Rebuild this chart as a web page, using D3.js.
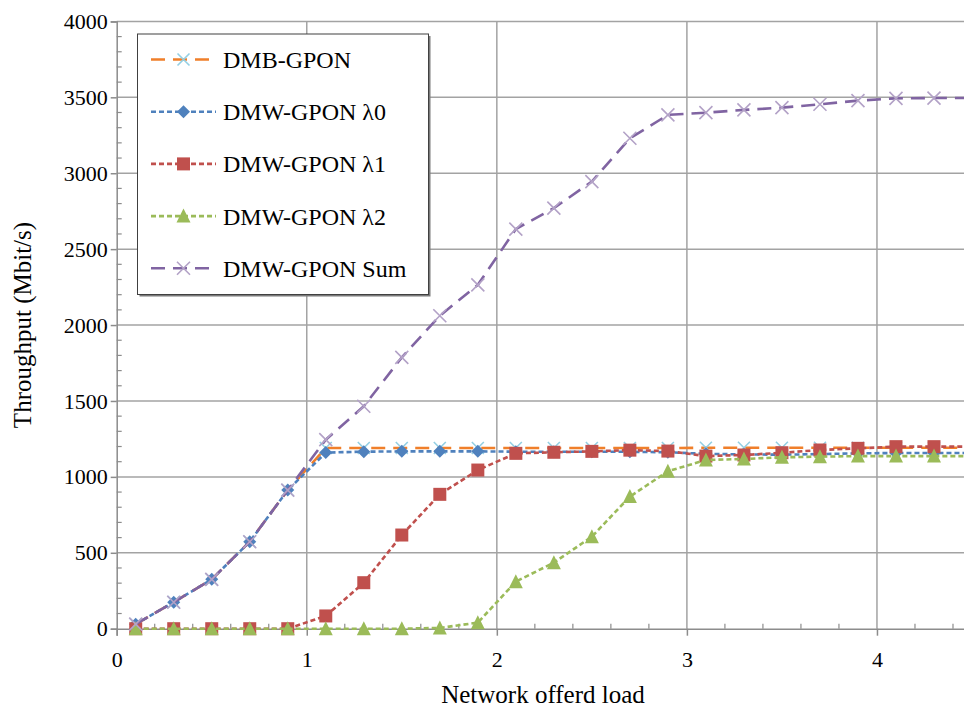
<!DOCTYPE html>
<html>
<head>
<meta charset="utf-8">
<script src="https://cdn.jsdelivr.net/npm/d3@7"></script>
<style>
  html, body { margin: 0; padding: 0; background: #fff; }
  svg { display: block; }
  text { font-family: "Liberation Serif", "DejaVu Serif", serif; fill: #000; }
</style>
</head>
<body>
<svg id="chart" width="964" height="708"></svg>
<script>
// ---- data ----
const loads = [0.1,0.3,0.5,0.7,0.9,1.1,1.3,1.5,1.7,1.9,2.1,2.3,2.5,2.7,2.9,3.1,3.3,3.5,3.7,3.9,4.1,4.3,4.5];
const dmbGpon = [30,175,325,573,913,1190,1190,1190,1190,1190,1190,1190,1190,1190,1190,1192,1192,1192,1192,1192,1192,1192,1192];
const dmwL0   = [30,175,325,573,913,1160,1166,1168,1168,1168,1166,1165,1165,1165,1162,1152,1148,1146,1150,1155,1157,1157,1157];
const dmwL1   = [0,0,0,0,0,84,303,617,885,1045,1155,1162,1168,1176,1170,1137,1144,1159,1177,1188,1199,1199,1199];
const dmwL2   = [0,0,0,0,0,0,0,0,5,40,310,435,606,870,1037,1111,1118,1129,1133,1137,1137,1137,1137];
const dmwSum  = [30,174,325,573,913,1245,1465,1787,2061,2265,2632,2770,2945,3230,3384,3399,3417,3432,3454,3478,3493,3495,3495];
const seriesNames = ["DMB-GPON","DMW-GPON λ0","DMW-GPON λ1","DMW-GPON λ2","DMW-GPON Sum"];
const xTickValues = [0,1,2,3,4];
const yTickValues = [0,500,1000,1500,2000,2500,3000,3500,4000];
const xTitle = "Network offerd load";
const yTitle = "Throughput (Mbit/s)";

// ---- styles ----
const styles = [
  {values: dmbGpon, line:"#f07f2a", marker:"cross", mcolor:"#93cfe3", dash:"14,8", size:12},
  {values: dmwL0,   line:"#4f81bd", marker:"diamond", mcolor:"#4f81bd", dash:"5,3", size:13},
  {values: dmwL1,   line:"#c0504d", marker:"square", mcolor:"#c0504d", dash:"5,3", size:13},
  {values: dmwL2,   line:"#9bbb59", marker:"triangle", mcolor:"#9bbb59", dash:"5,3", size:13},
  {values: dmwSum,  line:"#8064a2", marker:"cross", mcolor:"#b3a2c7", dash:"14,8", size:13}
];

const svg = d3.select("#chart");
const x = d3.scaleLinear().domain([0, 4.5]).range([116.7, 972]);
const y = d3.scaleLinear().domain([0, 4000]).range([628.7, 21.4]);
const gridColor = "#a3a3a3";

// gridlines
svg.append("g").selectAll("line.h").data(yTickValues.filter(d => d > 0)).join("line")
  .attr("x1", x(0)).attr("x2", 964).attr("y1", d => y(d)).attr("y2", d => y(d))
  .attr("stroke", gridColor).attr("stroke-width", 1.5);
svg.append("g").selectAll("line.v").data(xTickValues.filter(d => d > 0)).join("line")
  .attr("y1", y(0)).attr("y2", y(4000)).attr("x1", d => x(d)).attr("x2", d => x(d))
  .attr("stroke", gridColor).attr("stroke-width", 1.5);

// y axis
const yAxis = d3.axisLeft(y).tickValues(yTickValues).tickSize(6).tickPadding(3).tickFormat(d3.format("d"));
const gy = svg.append("g").attr("transform", `translate(${x(0)},0)`).call(yAxis);
gy.select(".domain").attr("stroke", "#8c8c8c").attr("stroke-width", 1.5);
gy.selectAll(".tick line").attr("stroke", "#8c8c8c").attr("stroke-width", 1.5);
gy.selectAll(".tick text").attr("font-size", 22).attr("font-family", "Liberation Serif").attr("fill", "#000");
const yMinor = d3.range(100, 4000, 100).filter(d => d % 500 !== 0);
svg.append("g").selectAll("line").data(yMinor).join("line")
  .attr("x1", x(0)).attr("x2", x(0) + 5).attr("y1", d => y(d)).attr("y2", d => y(d))
  .attr("stroke", "#8c8c8c").attr("stroke-width", 1.2);

// x axis
const xAxis = d3.axisBottom(x).tickValues(xTickValues).tickSize(7).tickPadding(16).tickFormat(d3.format("d"));
const gx = svg.append("g").attr("transform", `translate(0,${y(0)})`).call(xAxis);
gx.select(".domain").attr("stroke", "#8c8c8c").attr("stroke-width", 1.5);
gx.selectAll(".tick line").attr("stroke", "#8c8c8c").attr("stroke-width", 1.5);
gx.selectAll(".tick text").attr("font-size", 22).attr("font-family", "Liberation Serif").attr("fill", "#000");
const xMinor = d3.range(0.2, 4.5, 0.2).filter(d => Math.abs(d - Math.round(d)) > 0.01);
svg.append("g").selectAll("line").data(xMinor).join("line")
  .attr("x1", d => x(d)).attr("x2", d => x(d)).attr("y1", y(0)).attr("y2", y(0) - 5)
  .attr("stroke", "#8c8c8c").attr("stroke-width", 1.2);

// titles
svg.append("text").attr("x", 543).attr("y", 703).attr("text-anchor", "middle")
  .attr("font-size", 25).text(xTitle);
svg.append("text").attr("transform", "translate(31,325) rotate(-90)").attr("text-anchor", "middle")
  .attr("font-size", 25).text(yTitle);

// marker drawing
function drawMarker(g, type, cx, cy, color, s) {
  const h = s / 2;
  if (type === "cross") {
    g.append("path").attr("d", `M${cx-h},${cy-h}L${cx+h},${cy+h}M${cx-h},${cy+h}L${cx+h},${cy-h}`)
      .attr("stroke", color).attr("stroke-width", 1.6).attr("fill", "none");
  } else if (type === "diamond") {
    g.append("path").attr("d", `M${cx},${cy-h}L${cx+h},${cy}L${cx},${cy+h}L${cx-h},${cy}Z`).attr("fill", color);
  } else if (type === "square") {
    g.append("rect").attr("x", cx-h).attr("y", cy-h).attr("width", s).attr("height", s).attr("fill", color);
  } else if (type === "triangle") {
    g.append("path").attr("d", `M${cx},${cy-h-1}L${cx+h+0.5},${cy+h}L${cx-h-0.5},${cy+h}Z`).attr("fill", color);
  }
}

// series
const line = d3.line().x(d => x(d[0])).y(d => y(d[1]));
styles.forEach(st => {
  const g = svg.append("g");
  const pts = loads.map((l, i) => [l, st.values[i]]);
  g.append("path").datum(pts).attr("d", line)
    .attr("fill", "none").attr("stroke", st.line).attr("stroke-width", 2.6)
    .attr("stroke-dasharray", st.dash);
  pts.forEach(p => drawMarker(g, st.marker, x(p[0]), y(p[1]), st.mcolor, st.size));
});

// legend
const lg = svg.append("g");
lg.append("rect").attr("x", 139.5).attr("y", 36).attr("width", 291).attr("height", 260.5).attr("fill", "#7a7a7a");
lg.append("rect").attr("x", 137.5).attr("y", 34).attr("width", 291).attr("height", 260.5)
  .attr("fill", "#fff").attr("stroke", "#404040").attr("stroke-width", 1);
styles.forEach((st, i) => {
  const cy = 59.5 + i * 52.2;
  lg.append("line").attr("x1", 151).attr("x2", 216).attr("y1", cy).attr("y2", cy)
    .attr("stroke", st.line).attr("stroke-width", 2.6).attr("stroke-dasharray", st.dash);
  drawMarker(lg, st.marker, 183.5, cy, st.mcolor, st.size);
  lg.append("text").attr("x", 223).attr("y", cy).attr("dy", "0.35em")
    .attr("font-size", 24).text(seriesNames[i]);
});
</script>
</body>
</html>
